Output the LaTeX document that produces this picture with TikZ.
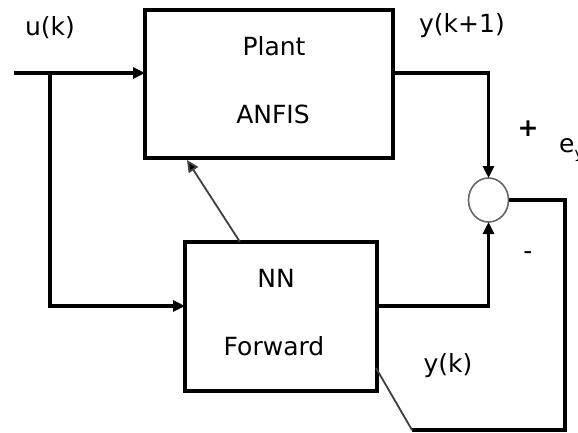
\documentclass[tikz,border=0pt]{standalone}
\usepackage{fontspec}
\setmainfont{DejaVu Sans}
\usetikzlibrary{arrows.meta,shapes.geometric}
\begin{document}
\begin{tikzpicture}[x=1pt,y=-1pt,
  blockbox/.style={draw,line width=3.2pt,rectangle,inner sep=0pt,outer sep=0pt},
  txt/.style={font=\fontsize{25}{27}\selectfont,inner sep=0pt},
  arr/.style={line width=3.2pt,-{Triangle[length=12pt,width=11pt]}},
  wire/.style={line width=3.2pt},
  thinwire/.style={line width=1.8pt,draw=black!75},
  thinarr/.style={line width=1.8pt,draw=black!75,-{Triangle[length=12pt,width=11pt,fill=black]}},
  sumnode/.style={ellipse,draw=black!60,line width=1.6pt,minimum width=40pt,minimum height=44pt,inner sep=0pt,outer sep=0pt}]
\useasboundingbox (0,0) rectangle (578,432);
\fill[white] (0,0) rectangle (578,432);
% blocks
\node[blockbox,minimum width=248pt,minimum height=148pt] (plant) at (269,84) {};
\node[blockbox,minimum width=192pt,minimum height=149pt] (nn) at (281,316.5) {};
\node[sumnode] (sum) at (488.5,200) {};
% block texts
\node[txt] (tplant) at (274,46) {Plant};
\node[txt] (tanfis) at (273,114) {ANFIS};
\node[txt] (tnn) at (276,278) {NN};
\node[txt] (tfwd) at (274,346) {Forward};
% labels
\node[txt] (lu) at (50,28) {u(k)};
\node[txt] (ly1) at (462,26) {y(k+1)};
\node[txt] (lyk) at (448,366) {y(k)};
\node[font=\fontsize{25}{27}\selectfont\bfseries,inner sep=0pt] (lplus) at (528,129) {+};
\node[txt] (lminus) at (528,256) {-};
\node[txt,anchor=west] (ley) at (559,150) {e\raisebox{-6pt}{\fontsize{15}{15}\selectfont y}};
% coordinates
\coordinate (in) at (14,73);
\coordinate (br) at (50,73);
\coordinate (b2) at (50,306);
\coordinate (c1) at (565,430);
\coordinate (c2) at (412,430);
\coordinate (c3) at (376,368);
% connectors
\draw[arr] (in) -- (in -| plant.west);
\draw[arr] (br) -- (b2) -- (b2 -| nn.west);
\draw[arr] (plant.east |- in) -| (sum.north);
\draw[arr] (nn.east |- b2) -| (sum.south);
\draw[wire] (sum.east) -| (c1) -- (c2);
\draw[thinwire] (c2) -- (c3);
\draw[thinarr] ([xshift=-41pt]nn.north) -- ([xshift=-82pt,yshift=-2pt]plant.south);
\end{tikzpicture}
\end{document}
